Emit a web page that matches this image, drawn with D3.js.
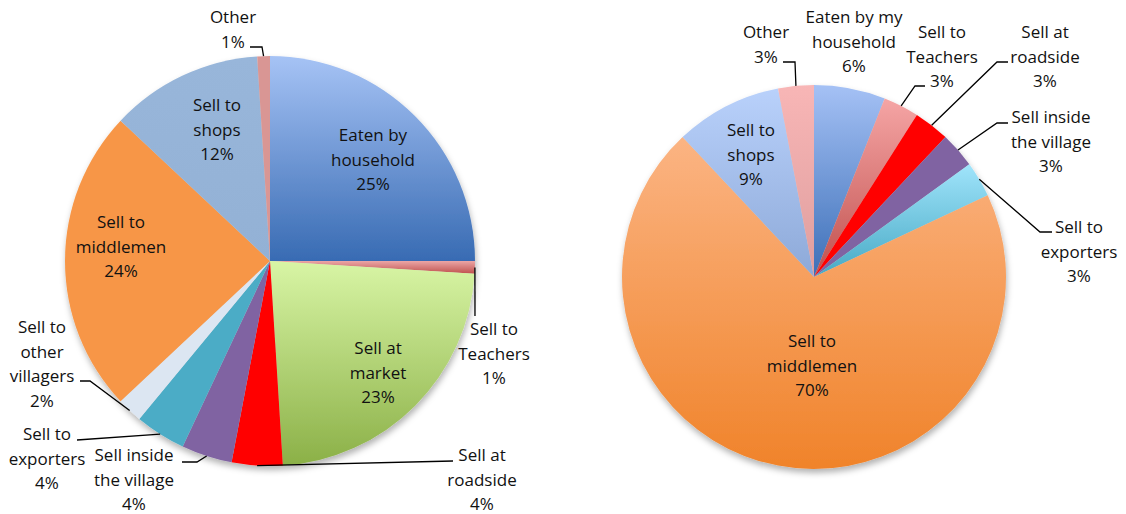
<!DOCTYPE html>
<html>
<head>
<meta charset="utf-8">
<script src="https://cdn.jsdelivr.net/npm/d3@7/dist/d3.min.js"></script>
<style>
  body { margin: 0; background: #fff; }
  svg { display: block; }
  text { font-family: "Open Sans", "DejaVu Sans", sans-serif; font-size: 17px; fill: #111; }
</style>
</head>
<body>
<svg id="chart"></svg>
<script>
// left pie
const leftCategories = ["Eaten by household", "Sell to Teachers", "Sell at market", "Sell at roadside",
    "Sell inside the village", "Sell to exporters", "Sell to other villagers", "Sell to middlemen",
    "Sell to shops", "Other"];
const leftValues = [25, 1, 23, 4, 4, 4, 2, 24, 12, 1];
const leftLines = [["Eaten by", "household"], ["Sell to", "Teachers"], ["Sell at", "market"],
    ["Sell at", "roadside"], ["Sell inside", "the village"], ["Sell to", "exporters"],
    ["Sell to", "other", "villagers"], ["Sell to", "middlemen"], ["Sell to", "shops"], ["Other"]];

// right pie
const rightCategories = ["Eaten by my household", "Sell to Teachers", "Sell at roadside",
    "Sell inside the village", "Sell to exporters", "Sell to middlemen", "Sell to shops", "Other"];
const rightValues = [6, 3, 3, 3, 3, 70, 9, 3];
const rightLines = [["Eaten by my", "household"], ["Sell to", "Teachers"], ["Sell at", "roadside"],
    ["Sell inside", "the village"], ["Sell to", "exporters"], ["Sell to", "middlemen"],
    ["Sell to", "shops"], ["Other"]];

// colours, top -> bottom of each slice
const leftColors = [["#a6c3f5", "#386bb3"], ["#eba6a6", "#c0504d"], ["#d8f5a5", "#8bb047"],
    ["#ff0000", "#ff0000"], ["#8064a2", "#8064a2"], ["#4bacc6", "#4bacc6"], ["#dce6f2", "#dce6f2"],
    ["#f79646", "#f79646"], ["#98b6da", "#93b1d5"], ["#d99694", "#d99694"]];
const rightColors = [["#a5c1f5", "#3c6fb7"], ["#f5a5a5", "#c0504d"], ["#ff0000", "#ff0000"],
    ["#8064a2", "#8064a2"], ["#a0e4fb", "#47a9c4"], ["#fbb483", "#f0832a"], ["#b9d1fb", "#8da9d8"],
    ["#f8b6b6", "#df9e9e"]];

// label centres (first line) and leader points (elbow, end)
const leftLayout = [
    {x: 373, y: 135}, {x: 494, y: 329, lead: [[475, 316]]}, {x: 378, y: 348},
    {x: 482, y: 455, lead: [[453, 461]]}, {x: 134, y: 455, lead: [[197, 462], [182, 462]]},
    {x: 47, y: 434, lead: [[77, 440]]}, {x: 42, y: 327, lead: [[90, 381], [80, 381]]},
    {x: 121, y: 222}, {x: 217, y: 105}, {x: 233, y: 17, lead: [[262, 47], [250, 47]]}
];
const rightLayout = [
    {x: 854, y: 17}, {x: 942, y: 32, lead: [[915, 86], [925, 86]]},
    {x: 1045, y: 32, lead: [[997, 62], [1008, 62]]}, {x: 1051, y: 117, lead: [[997, 123], [1008, 123]]},
    {x: 1079, y: 227, lead: [[1040, 232], [1052, 232]]}, {x: 812, y: 341}, {x: 751, y: 130},
    {x: 766, y: 32, lead: [[795, 62], [783, 62]]}
];

const width = 1126;
const height = 514;
const lineStep = 24.5;

const svg = d3.select("#chart")
    .attr("width", width)
    .attr("height", height)
    .attr("viewBox", [0, 0, width, height]);

const defs = svg.append("defs");
defs.append("filter")
    .attr("id", "shadow")
    .attr("x", "-10%").attr("y", "-10%").attr("width", "120%").attr("height", "125%")
    .append("feDropShadow")
    .attr("dx", 1).attr("dy", 4).attr("stdDeviation", 3)
    .attr("flood-color", "#000").attr("flood-opacity", 0.3);

function drawPie(id, cx, cy, r, categories, values, lines, colors, layout) {
    const data = categories.map((c, i) => ({name: c, value: values[i], lines: lines[i], i: i}));
    const pie = d3.pie().sort(null).value(d => d.value);
    const arcs = pie(data);
    const arc = d3.arc().innerRadius(0).outerRadius(r);

    arcs.forEach(a => {
        const g = defs.append("linearGradient")
            .attr("id", `${id}-grad-${a.data.i}`)
            .attr("x1", 0).attr("y1", 0).attr("x2", 0).attr("y2", 1);
        g.append("stop").attr("offset", "0%").attr("stop-color", colors[a.data.i][0]);
        g.append("stop").attr("offset", "100%").attr("stop-color", colors[a.data.i][1]);
    });

    const g = svg.append("g")
        .attr("transform", `translate(${cx},${cy})`)
        .attr("filter", "url(#shadow)");

    g.selectAll("path")
        .data(arcs)
        .join("path")
        .attr("d", arc)
        .attr("fill", d => `url(#${id}-grad-${d.data.i})`)
        .append("title")
        .text(d => `${d.data.name}: ${d.data.value}%`);

    // leader lines
    svg.append("g")
        .selectAll("path")
        .data(arcs.filter(a => layout[a.data.i].lead))
        .join("path")
        .attr("fill", "none")
        .attr("stroke", "#000")
        .attr("stroke-width", 1.3)
        .attr("d", d => {
            const m = (d.startAngle + d.endAngle) / 2;
            const start = [cx + Math.sin(m) * r, cy - Math.cos(m) * r];
            return d3.line()([start, ...layout[d.data.i].lead]);
        });

    // labels
    svg.append("g")
        .selectAll("text")
        .data(arcs)
        .join("text")
        .attr("text-anchor", "middle")
        .each(function (d) {
            const pos = layout[d.data.i];
            const t = d3.select(this);
            [...d.data.lines, `${d.data.value}%`].forEach((s, k) => {
                t.append("tspan")
                    .attr("x", pos.x)
                    .attr("y", pos.y + k * lineStep)
                    .attr("dy", "0.36em")
                    .text(s);
            });
        });
}

drawPie("left", 270, 261, 205, leftCategories, leftValues, leftLines, leftColors, leftLayout);
drawPie("right", 814, 277, 192, rightCategories, rightValues, rightLines, rightColors, rightLayout);
</script>
</body>
</html>
